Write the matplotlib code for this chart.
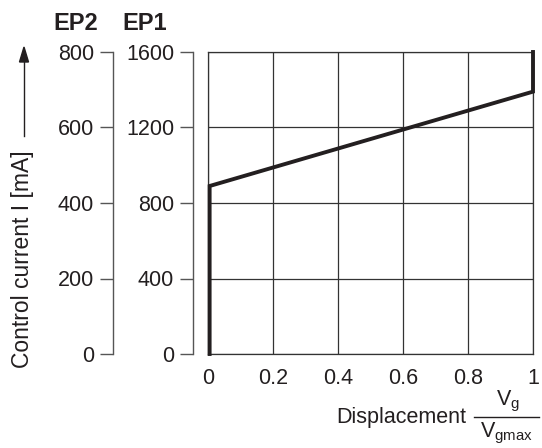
import matplotlib
matplotlib.use("Agg")
import matplotlib.pyplot as plt
from matplotlib.lines import Line2D

plt.rcParams['font.family'] = ['Liberation Sans', 'DejaVu Sans']
plt.rcParams['mathtext.fontset'] = 'custom'
plt.rcParams['mathtext.rm'] = 'Liberation Sans'

# characteristic curve (EP1 scale, mA)
disp = [0, 0, 1, 1]
current_ep1 = [0, 890, 1390, 1600]

x_ticks = [0, 0.2, 0.4, 0.6, 0.8, 1]
x_tick_labels = ["0", "0.2", "0.4", "0.6", "0.8", "1"]
ep1_ticks = [0, 400, 800, 1200, 1600]
ep2_ticks = [0, 200, 400, 600, 800]

W, H = 542, 448
fig = plt.figure(figsize=(W / 100, H / 100), dpi=100)

left, right, top, bottom = 208, 533, 52, 354
pos = [left / W, 1 - bottom / H, (right - left) / W, (bottom - top) / H]
dark = "#231f20"
gray = "#555555"
fs = 15.5

ax = fig.add_axes(pos)
ax.set_xlim(0, 1)
ax.set_ylim(0, 1600)
ax.set_xticks(x_ticks)
ax.set_xticklabels(x_tick_labels, fontsize=fs)
ax.set_yticks(ep1_ticks)
ax.set_yticklabels([])
ax.tick_params(length=0, pad=10, colors=dark)
ax.grid(True, color="#333333", linewidth=0.9)
for s in ax.spines.values():
    s.set_color("#333333")
    s.set_linewidth(0.9)
ax.plot([d + 0.005 if d == 0 else d for d in disp], current_ep1, color=dark,
        linewidth=2.8, solid_joinstyle="miter", clip_on=False, zorder=5)

# EP1 and EP2 scales
def side_axis(xpix, ticks):
    a = fig.add_axes([xpix / W, pos[1], 0.0001, pos[3]])
    a.set_ylim(ticks[0], ticks[-1])
    a.set_yticks(ticks)
    a.set_yticklabels([str(t) for t in ticks], fontsize=fs)
    a.set_xticks([])
    a.patch.set_visible(False)
    for k in ("top", "right", "bottom"):
        a.spines[k].set_visible(False)
    a.spines["left"].set_color(gray)
    a.spines["left"].set_linewidth(1.0)
    a.tick_params(axis="y", length=9.5, width=1.0, color=gray, labelcolor=dark, pad=4)
    return a

side_axis(193, ep1_ticks)
side_axis(113, ep2_ticks)

fig.text(76 / W, 1 - 24 / H, "EP2", fontsize=17, fontweight="bold", ha="center", va="center", color=dark)
fig.text(145 / W, 1 - 24 / H, "EP1", fontsize=17, fontweight="bold", ha="center", va="center", color=dark)

# y label with arrow
fig.text(23 / W, 1 - 259 / H, "Control current I [mA]", rotation=90, fontsize=16.5,
         ha="center", va="center", color=dark)
fig.add_artist(Line2D([24 / W, 24 / W], [1 - 136 / H, 1 - 60 / H], color=dark, linewidth=1.0))
fig.patches.append(matplotlib.patches.FancyArrow(
    24 / W, 1 - 62 / H, 0, 15 / H, width=0.0, head_width=9 / W, head_length=15 / H,
    length_includes_head=True, color=dark, transform=fig.transFigure, figure=fig))

# x label with fraction
fig.text(466 / W, 1 - 417 / H, "Displacement", fontsize=fs, ha="right", va="center", color=dark)
fig.text(508 / W, 1 - 401 / H, r"$\mathregular{V_g}$", fontsize=fs, ha="center", va="center", color=dark)
fig.text(507 / W, 1 - 433 / H, r"$\mathregular{V_{gmax}}$", fontsize=fs, ha="center", va="center", color=dark)
fig.add_artist(Line2D([474 / W, 539 / W], [1 - 417 / H, 1 - 417 / H], color=dark, linewidth=1.0))

fig.savefig("out.png", dpi=100)
